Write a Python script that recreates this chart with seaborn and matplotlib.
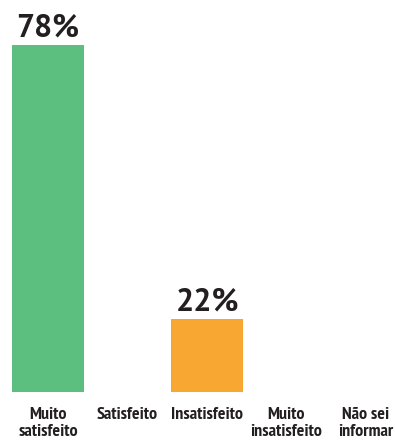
import matplotlib
matplotlib.use("Agg")
import matplotlib.pyplot as plt
import seaborn as sns
import pandas as pd

categories = ["Muito\nsatisfeito", "Satisfeito", "Insatisfeito", "Muito\ninsatisfeito", "Não sei\ninformar"]
values = [78, 0, 22, 0, 0]
value_labels = ["78%", "", "22%", "", ""]
bar_colors = ["#5CBF80", "#5CBF80", "#F9A733", "#F9A733", "#F9A733"]

sns.set_theme(style="white")

df = pd.DataFrame({"categoria": categories, "valor": values})

fig = plt.figure(figsize=(3.95, 4.41), dpi=100)
ax = fig.add_axes([0.0, 0.1118, 1.0, 0.8882])

sns.barplot(data=df, x="categoria", y="valor", hue="categoria",
            palette=bar_colors, width=0.9, legend=False, ax=ax,
            saturation=1, edgecolor="none", linewidth=0)

ax.set_xlim(-0.604, 4.365)
ax.set_ylim(7.16, 87.13)

pct_font = ["PT Sans", "Fira Sans", "DejaVu Sans"]
cat_font = ["PT Sans Narrow", "Fira Sans Condensed", "DejaVu Sans"]

for i, (v, lab) in enumerate(zip(values, value_labels)):
    if lab:
        ax.annotate(lab, xy=(i, v), xytext=(0, 5.8), textcoords="offset points",
                    ha="center", va="baseline", fontsize=23, fontweight="bold",
                    family=pct_font, color="#231F20")

ax.set_xlabel("")
ax.set_ylabel("")
ax.set_yticks([])
ax.set_xticks(range(len(categories)))
ax.set_xticklabels(categories, fontsize=13, fontweight="bold",
                   family=cat_font, color="#231F20", linespacing=1.12)
ax.tick_params(axis="x", length=0, pad=11)
for s in ax.spines.values():
    s.set_visible(False)

fig.savefig("out.png", dpi=100)
